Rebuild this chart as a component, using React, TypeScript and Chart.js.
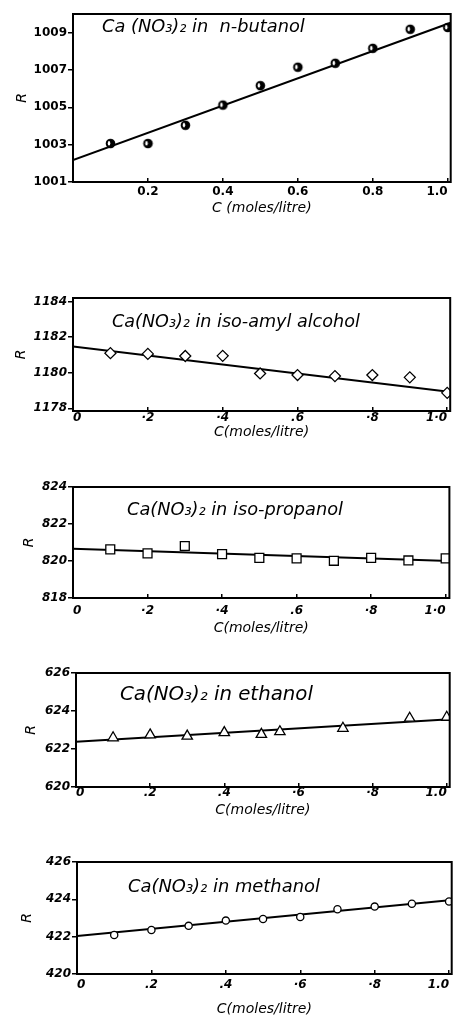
import React, { useEffect, useRef } from "react";
import { Chart, registerables } from "chart.js";

Chart.register(...registerables);

// ---------- Data ----------
// Panel 1: Ca(NO3)2 in n-butanol
const butanolC = [0.1, 0.2, 0.3, 0.4, 0.5, 0.6, 0.7, 0.8, 0.9, 1.0];
const butanolR = [1003.06, 1003.06, 1004.04, 1005.12, 1006.16, 1007.15, 1007.36, 1008.16, 1009.18, 1009.28];
const butanolFitC = [0, 1.01];
const butanolFitR = [1002.17, 1009.55];
const butanolYTicks = [1001, 1003, 1005, 1007, 1009];
const butanolXTicks = [0, 0.2, 0.4, 0.6, 0.8, 1.0];
const butanolXLabels = ["", "0.2", "0.4", "0.6", "0.8", "1.0"];

// Panel 2: Ca(NO3)2 in iso-amyl alcohol
const amylC = [0.1, 0.2, 0.3, 0.4, 0.5, 0.6, 0.7, 0.8, 0.9, 1.0];
const amylR = [1181.1, 1181.06, 1180.94, 1180.95, 1179.96, 1179.87, 1179.81, 1179.87, 1179.74, 1178.87];
const amylFitC = [0, 1.01];
const amylFitR = [1181.47, 1178.92];
const amylYTicks = [1178, 1180, 1182, 1184];
const amylXTicks = [0, 0.2, 0.4, 0.6, 0.8, 1.0];
const amylXLabels = ["0", "·2", "·4", ".6", "·8", "1·0"];

// Panel 3: Ca(NO3)2 in iso-propanol
const propC = [0.1, 0.2, 0.3, 0.4, 0.5, 0.6, 0.7, 0.8, 0.9, 1.0];
const propR = [820.63, 820.41, 820.81, 820.37, 820.17, 820.14, 820.01, 820.17, 820.03, 820.14];
const propFitC = [0, 1.01];
const propFitR = [820.66, 820.0];
const propYTicks = [818, 820, 822, 824];
const propXTicks = [0, 0.2, 0.4, 0.6, 0.8, 1.0];
const propXLabels = ["0", "·2", "·4", ".6", "·8", "1·0"];

// Panel 4: Ca(NO3)2 in ethanol
const ethC = [0.1, 0.2, 0.3, 0.4, 0.5, 0.55, 0.72, 0.9, 1.0];
const ethR = [622.59, 622.74, 622.68, 622.86, 622.77, 622.91, 623.09, 623.62, 623.67];
const ethFitC = [0, 1.01];
const ethFitR = [622.38, 623.57];
const ethYTicks = [620, 622, 624, 626];
const ethXTicks = [0, 0.2, 0.4, 0.6, 0.8, 1.0];
const ethXLabels = ["0", ".2", ".4", "·6", "·8", "1.0"];

// Panel 5: Ca(NO3)2 in methanol
const methC = [0.1, 0.2, 0.3, 0.4, 0.5, 0.6, 0.7, 0.8, 0.9, 1.0];
const methR = [422.09, 422.36, 422.58, 422.86, 422.95, 423.05, 423.47, 423.61, 423.76, 423.88];
const methFitC = [0, 1.01];
const methFitR = [422.04, 423.97];
const methYTicks = [420, 422, 424, 426];
const methXTicks = [0, 0.2, 0.4, 0.6, 0.8, 1.0];
const methXLabels = ["0", ".2", ".4", "·6", "·8", "1.0"];

// ---------- Layout / style ----------
const W = 457;
const PLOT_RIGHT = 455;
const FAM = '"DejaVu Sans", sans-serif';

type PanelCfg = {
  C: number[]; R: number[]; fitC: number[]; fitR: number[];
  yTicks: number[]; xTicks: number[]; xLabels: string[];
  yMin: number; yMax: number; xMax: number;
  plotTop: number; plotBottom: number; plotLeft: number;
  xLabelY: number; rX: number; xTickY: number;
  xTitle: string; note: string; noteX: number; noteY: number; noteW: number;
  marker: string; markerR: number; italic: boolean;
};

const panels: PanelCfg[] = [
  {
    C: butanolC, R: butanolR, fitC: butanolFitC, fitR: butanolFitR,
    yTicks: butanolYTicks, xTicks: butanolXTicks, xLabels: butanolXLabels,
    yMin: 1001, yMax: 1010, xMax: 1.008,
    plotTop: 14, plotBottom: 182, plotLeft: 73, xLabelY: 209, rX: 22, xTickY: 192,
    xTitle: "C (moles/litre)", note: "Ca (NO₃)₂ in  n-butanol", noteX: 102, noteY: 27, noteW: 203,
    marker: "half", markerR: 4.2, italic: false,
  },
  {
    C: amylC, R: amylR, fitC: amylFitC, fitR: amylFitR,
    yTicks: amylYTicks, xTicks: amylXTicks, xLabels: amylXLabels,
    yMin: 1177.85, yMax: 1184.2, xMax: 1.008,
    plotTop: 298, plotBottom: 411, plotLeft: 73, xLabelY: 433, rX: 21, xTickY: 418,
    xTitle: "C(moles/litre)", note: "Ca(NO₃)₂ in iso-amyl alcohol", noteX: 112, noteY: 322, noteW: 248,
    marker: "rectRot", markerR: 5.5, italic: true,
  },
  {
    C: propC, R: propR, fitC: propFitC, fitR: propFitR,
    yTicks: propYTicks, xTicks: propXTicks, xLabels: propXLabels,
    yMin: 818, yMax: 824, xMax: 1.01,
    plotTop: 487, plotBottom: 598, plotLeft: 73, xLabelY: 629, rX: 29, xTickY: 611,
    xTitle: "C(moles/litre)", note: "Ca(NO₃)₂ in iso-propanol", noteX: 127, noteY: 510, noteW: 216,
    marker: "rect", markerR: 6.3, italic: true,
  },
  {
    C: ethC, R: ethR, fitC: ethFitC, fitR: ethFitR,
    yTicks: ethYTicks, xTicks: ethXTicks, xLabels: ethXLabels,
    yMin: 620, yMax: 626, xMax: 1.008,
    plotTop: 673, plotBottom: 787, plotLeft: 76, xLabelY: 811, rX: 31, xTickY: 793,
    xTitle: "C(moles/litre)", note: "Ca(NO₃)₂ in ethanol", noteX: 120, noteY: 695, noteW: 193,
    marker: "triangle", markerR: 6, italic: true,
  },
  {
    C: methC, R: methR, fitC: methFitC, fitR: methFitR,
    yTicks: methYTicks, xTicks: methXTicks, xLabels: methXLabels,
    yMin: 420, yMax: 426, xMax: 1.007,
    plotTop: 862, plotBottom: 974, plotLeft: 77, xLabelY: 1010, rX: 27, xTickY: 985,
    xTitle: "C(moles/litre)", note: "Ca(NO₃)₂ in methanol", noteX: 128, noteY: 887, noteW: 192,
    marker: "circle", markerR: 3.6, italic: true,
  },
];

// Mostly-filled circle with a white crescent on its left side
function halfCircle(r: number): HTMLCanvasElement {
  const c = document.createElement("canvas");
  const s = Math.ceil(r * 2 + 4);
  c.width = s;
  c.height = s;
  const g = c.getContext("2d")!;
  const m = s / 2;
  g.fillStyle = "#000";
  g.beginPath();
  g.arc(m, m, r + 0.6, 0, Math.PI * 2);
  g.fill();
  g.fillStyle = "#fff";
  g.beginPath();
  g.ellipse(m - r * 0.35, m - r * 0.05, r * 0.3, r * 0.55, 0, 0, Math.PI * 2);
  g.fill();
  return c;
}

const framePlugin = {
  id: "frameNote",
  afterDatasetsDraw(chart: any, _args: any, opts: any) {
    const { ctx, chartArea: a } = chart;
    ctx.save();
    ctx.strokeStyle = "#000";
    ctx.lineWidth = 2;
    ctx.strokeRect(a.left, a.top, a.right - a.left, a.bottom - a.top);
    // annotation text inside the plot
    ctx.font = `italic 14px ${FAM}`;
    const w14 = ctx.measureText(opts.text).width;
    const size = (14 * opts.width) / w14;
    ctx.font = `italic ${size.toFixed(2)}px ${FAM}`;
    ctx.fillStyle = "#000";
    ctx.textBaseline = "middle";
    ctx.textAlign = "left";
    ctx.fillText(opts.text, opts.x, opts.y);
    ctx.restore();
  },
};

function Panel({ p }: { p: PanelCfg }) {
  const ref = useRef<HTMLCanvasElement>(null);
  const canvasTop = p.plotTop - 10;
  const canvasH = Math.round(p.xLabelY + 8.4 - canvasTop);

  useEffect(() => {
    if (!ref.current) return;
    const xAxisH = canvasH - (p.plotBottom - canvasTop);
    const tickFont = { family: FAM, size: 12, weight: "bold" as const, style: (p.italic ? "italic" : "normal") as any };
    const titleFont = { family: FAM, size: 14, style: "italic" as any };
    const pointStyle: any = p.marker === "half" ? halfCircle(p.markerR) : p.marker;

    const chart = new Chart(ref.current, {
      type: "scatter",
      data: {
        datasets: [
          {
            data: p.C.map((c, i) => ({ x: c, y: p.R[i] })),
            pointStyle,
            pointRadius: p.marker === "half" ? 5 : p.markerR,
            pointBackgroundColor: "#fff",
            pointBorderColor: "#000",
            pointBorderWidth: 1.3,
            showLine: false,
          } as any,
          {
            data: p.fitC.map((c, i) => ({ x: c, y: p.fitR[i] })),
            showLine: true,
            borderColor: "#000",
            borderWidth: 2,
            pointRadius: 0,
            clip: 0,
          } as any,
        ],
      },
      options: {
        responsive: false,
        animation: false,
        layout: { padding: { top: p.plotTop - canvasTop, right: W - PLOT_RIGHT, left: 0, bottom: 0 } },
        plugins: {
          legend: { display: false },
          tooltip: { enabled: false },
          frameNote: { text: p.note, x: p.noteX, y: p.noteY - canvasTop, width: p.noteW },
        } as any,
        scales: {
          x: {
            type: "linear",
            min: 0,
            max: p.xMax,
            afterBuildTicks: (s: any) => {
              s.ticks = p.xTicks.map((v) => ({ value: v }));
            },
            afterFit: (s: any) => {
              s.height = xAxisH;
              s.paddingLeft = 0;
              s.paddingRight = 0;
            },
            ticks: {
              callback: (v: any) => {
                const i = p.xTicks.findIndex((t) => Math.abs(t - Number(v)) < 1e-9);
                return i >= 0 ? p.xLabels[i] : "";
              },
              font: tickFont,
              color: "#000",
              align: "inner",
              padding: p.xTickY - p.plotBottom - 7 + 4,
              autoSkip: false,
              maxRotation: 0,
              minRotation: 0,
            },
            grid: { drawOnChartArea: false, drawTicks: true, tickLength: -4, color: "#000", lineWidth: 1.5 },
            border: { display: false },
            title: { display: true, text: p.xTitle, font: titleFont, color: "#000", padding: 0 },
          },
          y: {
            type: "linear",
            min: p.yMin,
            max: p.yMax,
            afterBuildTicks: (s: any) => {
              s.ticks = p.yTicks.map((v) => ({ value: v }));
            },
            afterFit: (s: any) => {
              s.width = p.plotLeft;
              s.paddingTop = 0;
              s.paddingBottom = 0;
            },
            ticks: {
              callback: (v: any) => String(v),
              font: tickFont,
              color: "#000",
              padding: 1,
            },
            grid: { drawOnChartArea: false, drawTicks: true, tickLength: 5, color: "#000", lineWidth: 1.5 },
            border: { display: false },
            title: {
              display: true,
              text: "R",
              font: titleFont,
              color: "#000",
              padding: { top: p.rX - 8.4, bottom: 0 },
            },
          },
        },
      },
      plugins: [framePlugin],
    });
    return () => chart.destroy();
  }, []);

  return (
    <canvas
      ref={ref}
      width={W}
      height={canvasH}
      style={{ position: "absolute", left: 0, top: canvasTop, width: W, height: canvasH, display: "block" }}
    />
  );
}

export default function App() {
  return (
    <div style={{ position: "absolute", left: 0, top: 0, width: W, height: 1019, background: "#fff", overflow: "hidden" }}>
      {panels.map((p, i) => (
        <Panel key={i} p={p} />
      ))}
    </div>
  );
}
